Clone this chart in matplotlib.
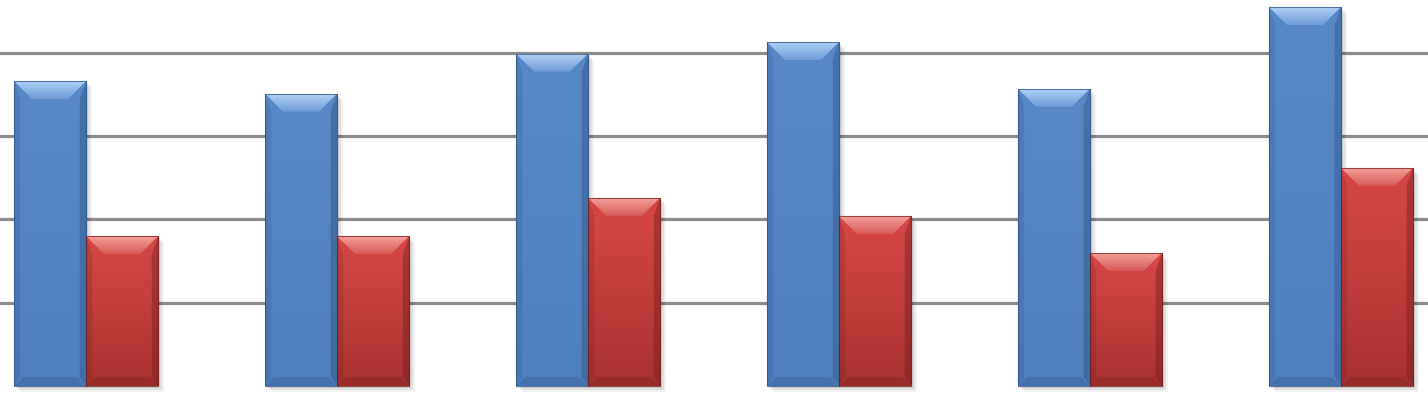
import matplotlib
matplotlib.use("Agg")
import matplotlib.pyplot as plt
import numpy as np
from matplotlib.patches import Polygon, Rectangle

categories = ["1", "2", "3", "4", "5", "6"]
series_blue = [3.66, 3.51, 3.99, 4.13, 3.57, 4.55]
series_red = [1.80, 1.80, 2.26, 2.04, 1.60, 2.62]

fig = plt.figure(figsize=(14.28, 4.09), dpi=100)
ax = fig.add_axes([0, 0, 1, 1])
ax.set_xlim(-0.343, 5.347)
ax.set_ylim(-0.276, 4.634)
ax.set_axis_off()

for g in [1, 2, 3, 4]:
    ax.axhline(g, color="#8c8c8c", lw=2.3, zorder=1)

x = np.arange(len(categories))
w = 0.287
blue = ax.bar(x - w / 2, series_blue, w, color="#4f81bd", zorder=3)
red = ax.bar(x + w / 2, series_red, w, color="#c0504d", zorder=3)

# pixel -> data sizes
px_x = (5.347 + 0.343) / 1428
px_y = (4.634 + 0.276) / 409


def bevel(bars, top_lo, top_hi, body_top, body_bot, side, bottom):
    for b in bars:
        x0, bw, h = b.get_x(), b.get_width(), b.get_height()
        # shadow
        for k, a in [(6, 0.05), (4, 0.07), (2, 0.09)]:
            ax.add_patch(Rectangle((x0 + k * px_x, -k * px_y), bw, h, color="black",
                                   alpha=a, lw=0, zorder=2))
        # vertical gradient body
        grad = np.linspace(0, 1, 64).reshape(-1, 1)
        c0 = np.array(matplotlib.colors.to_rgb(body_bot))
        c1 = np.array(matplotlib.colors.to_rgb(body_top))
        img = c0 + (c1 - c0) * grad[:, :, None] * np.ones((1, 1, 3))
        im = ax.imshow(img, extent=[x0, x0 + bw, 0, h], origin="lower",
                       aspect="auto", zorder=3.5, interpolation="bilinear")
        im.set_clip_path(b)
        dx, dy = 18 * px_x, 18 * px_y
        # side edges
        ax.add_patch(Polygon([(x0, 0), (x0 + dx * 0.35, dy * 0.5), (x0 + dx * 0.35, h - dy),
                              (x0, h)], color=side, alpha=0.2, lw=0, zorder=4))
        ax.add_patch(Polygon([(x0 + bw, 0), (x0 + bw - dx * 0.35, dy * 0.5),
                              (x0 + bw - dx * 0.35, h - dy), (x0 + bw, h)],
                             color=side, alpha=0.4, lw=0, zorder=4))
        # bottom bevel
        ax.add_patch(Polygon([(x0, 0), (x0 + bw, 0), (x0 + bw - dx * 0.5, dy * 0.5),
                              (x0 + dx * 0.5, dy * 0.5)], color=bottom, alpha=0.5,
                             lw=0, zorder=4))
        # top bevel with gradient
        top = Polygon([(x0, h), (x0 + bw, h), (x0 + bw - dx, h - dy), (x0 + dx, h - dy)],
                      facecolor="none", lw=0, zorder=4.5)
        ax.add_patch(top)
        t0 = np.array(matplotlib.colors.to_rgb(top_lo))
        t1 = np.array(matplotlib.colors.to_rgb(top_hi))
        g2 = np.linspace(0, 1, 32).reshape(-1, 1)
        img2 = t0 + (t1 - t0) * g2[:, :, None] * np.ones((1, 1, 3))
        im2 = ax.imshow(img2, extent=[x0, x0 + bw, h - dy, h], origin="lower",
                        aspect="auto", zorder=4.5, interpolation="bilinear")
        im2.set_clip_path(top)
        # dark outline
        ax.add_patch(Rectangle((x0, 0), bw, h, facecolor="none", edgecolor=side,
                               lw=0.8, alpha=0.7, zorder=5))


bevel(blue, "#6e9cd8", "#b0d0f6", "#5789c9", "#4f80c0", "#2c4f7c", "#3d669c")
bevel(red, "#d65b58", "#f5a09c", "#d64846", "#a8322f", "#6e1d1b", "#8a2826")

ax.set_xlim(-0.343, 5.347)
ax.set_ylim(-0.276, 4.634)
fig.savefig("out.png", dpi=100)
